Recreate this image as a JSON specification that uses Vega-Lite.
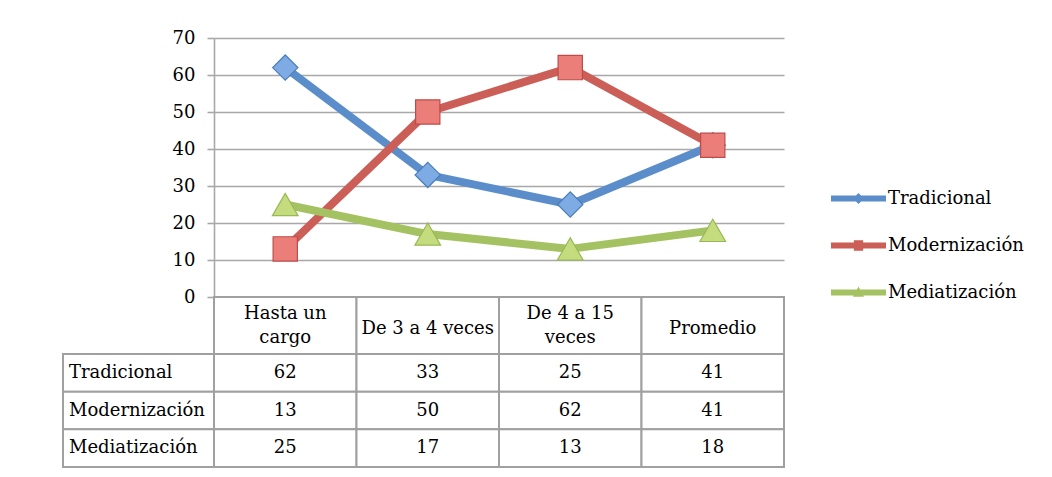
{
  "$schema": "https://vega.github.io/schema/vega-lite/v6.json",
  "autosize": {"type": "pad"},
  "padding": {"left": 62, "top": 29, "right": 0, "bottom": 0},
  "background": "white",
  "config": {
    "view": {"stroke": null},
    "font": "DejaVu Serif",
    "text": {"font": "DejaVu Serif", "fontSize": 18, "color": "#000000"},
    "axis": {"labelFont": "DejaVu Serif", "labelFontSize": 18, "labelColor": "#000000"}
  },
  "datasets": {
    "valores": [
      {"serie": "Tradicional", "categoria": "Hasta un cargo", "valor": 62},
      {"serie": "Tradicional", "categoria": "De 3 a 4 veces", "valor": 33},
      {"serie": "Tradicional", "categoria": "De 4 a 15 veces", "valor": 25},
      {"serie": "Tradicional", "categoria": "Promedio", "valor": 41},
      {"serie": "Modernización", "categoria": "Hasta un cargo", "valor": 13},
      {"serie": "Modernización", "categoria": "De 3 a 4 veces", "valor": 50},
      {"serie": "Modernización", "categoria": "De 4 a 15 veces", "valor": 62},
      {"serie": "Modernización", "categoria": "Promedio", "valor": 41},
      {"serie": "Mediatización", "categoria": "Hasta un cargo", "valor": 25},
      {"serie": "Mediatización", "categoria": "De 3 a 4 veces", "valor": 17},
      {"serie": "Mediatización", "categoria": "De 4 a 15 veces", "valor": 13},
      {"serie": "Mediatización", "categoria": "Promedio", "valor": 18}
    ],
    "categorias": [
      {"categoria": "Hasta un cargo", "etiqueta": "Hasta un\ncargo"},
      {"categoria": "De 3 a 4 veces", "etiqueta": "De 3 a 4 veces"},
      {"categoria": "De 4 a 15 veces", "etiqueta": "De 4 a 15\nveces"},
      {"categoria": "Promedio", "etiqueta": "Promedio"}
    ],
    "series": [
      {"serie": "Tradicional"},
      {"serie": "Modernización"},
      {"serie": "Mediatización"}
    ]
  },
  "columns": 2,
  "spacing": 0,
  "bounds": "flush",
  "concat": [
    {"width": 151, "height": 259, "data": {"values": []}, "mark": "point"},
    {
      "width": 570,
      "height": 259,
      "data": {"name": "valores"},
      "encoding": {
        "x": {
          "field": "categoria", "type": "nominal",
          "sort": ["Hasta un cargo", "De 3 a 4 veces", "De 4 a 15 veces", "Promedio"],
          "scale": {"type": "point", "padding": 0.5},
          "axis": null
        },
        "y": {
          "field": "valor", "type": "quantitative",
          "scale": {"domain": [0, 70], "nice": false},
          "axis": {
            "title": null, "values": [0, 10, 20, 30, 40, 50, 60, 70],
            "grid": true, "gridColor": "#A8A8A8", "gridWidth": 1.6,
            "domainColor": "#A8A8A8", "domainWidth": 1.6,
            "tickColor": "#A8A8A8", "tickWidth": 1.6, "tickSize": 7,
            "labelPadding": 12
          }
        }
      },
      "layer": [
        {
          "mark": {"type": "line", "strokeWidth": 8, "strokeJoin": "round", "strokeCap": "round"},
          "encoding": {
            "color": {
              "field": "serie", "type": "nominal",
              "sort": ["Tradicional", "Modernización", "Mediatización"],
              "scale": {"domain": ["Tradicional", "Modernización", "Mediatización"], "range": ["#5A8DC9", "#CC5E58", "#A5C263"]},
              "legend": {
                "title": null,
                "orient": "none",
                "legendX": 768,
                "legendY": 133,
                "symbolSize": 3025,
                "symbolType": "M-1,-0.11L1,-0.11L1,0.11L-1,0.11Z",
                "symbolStrokeWidth": 0,
                "labelFont": "DejaVu Serif",
                "labelFontSize": 18,
                "labelColor": "#000000",
                "labelOffset": 2,
                "rowPadding": 10,
                "encode": {
                  "symbols": {
                    "update": {
                      "shape": {"signal": "datum.value === 'Tradicional' ? 'M-1,-0.11L1,-0.11L1,0.11L-1,0.11Z M0,-0.2L0.2,0L0,0.2L-0.2,0Z' : datum.value === 'Modernización' ? 'M-1,-0.11L1,-0.11L1,0.11L-1,0.11Z M-0.17,-0.19L0.17,-0.19L0.17,0.19L-0.17,0.19Z' : 'M-1,-0.11L1,-0.11L1,0.11L-1,0.11Z M0,-0.22L0.2,0.15L-0.2,0.15Z'"},
                      "fill": {"signal": "scale('color', datum.value)"},
                      "stroke": {"value": "transparent"},
                      "opacity": {"value": 1}
                    }
                  }
                }
              }
            }
          }
        },
        {
          "transform": [{"filter": "datum.serie === 'Tradicional'"}],
          "mark": {"type": "point", "shape": "diamond", "filled": true, "size": 640, "fill": "#7EABE3", "stroke": "#4A7EBB", "strokeWidth": 1.2, "opacity": 1}
        },
        {
          "transform": [{"filter": "datum.serie === 'Modernización'"}],
          "mark": {"type": "point", "shape": "square", "filled": true, "size": 590, "fill": "#EC7E79", "stroke": "#BE4B48", "strokeWidth": 1.2, "opacity": 1}
        },
        {
          "transform": [{"filter": "datum.serie === 'Mediatización'"}],
          "mark": {"type": "point", "shape": "triangle-up", "filled": true, "size": 660, "fill": "#C4DC7E", "stroke": "#98B954", "strokeWidth": 1.2, "opacity": 1}
        }
      ]
    },
    {"width": 151, "height": 57, "data": {"values": []}, "mark": "point"},
    {
      "width": 570,
      "height": 57,
      "data": {"name": "categorias"},
      "encoding": {
        "x": {
          "field": "categoria", "type": "nominal",
          "sort": ["Hasta un cargo", "De 3 a 4 veces", "De 4 a 15 veces", "Promedio"],
          "scale": {"type": "band", "paddingInner": 0, "paddingOuter": 0},
          "axis": null
        }
      },
      "layer": [
        {"mark": {"type": "rect", "fill": "white", "stroke": "#A0A0A0", "strokeWidth": 2}},
        {
          "transform": [{"filter": "indexof(datum.etiqueta, '\\n') < 0"}],
          "mark": {"type": "text", "align": "center", "baseline": "middle", "dy": 3},
          "encoding": {"text": {"field": "etiqueta", "type": "nominal"}}
        },
        {
          "transform": [{"filter": "indexof(datum.etiqueta, '\\n') >= 0"}],
          "mark": {"type": "text", "lineBreak": "\n", "lineHeight": 24, "align": "center", "baseline": "middle", "dy": -12},
          "encoding": {"text": {"field": "etiqueta", "type": "nominal"}}
        }
      ]
    },
    {
      "width": 151,
      "height": 113,
      "data": {"name": "series"},
      "encoding": {
        "y": {
          "field": "serie", "type": "nominal",
          "sort": ["Tradicional", "Modernización", "Mediatización"],
          "scale": {"type": "band", "paddingInner": 0, "paddingOuter": 0},
          "axis": null
        }
      },
      "layer": [
        {"mark": {"type": "rect", "fill": "white", "stroke": "#A0A0A0", "strokeWidth": 2}},
        {
          "mark": {"type": "text", "align": "left", "baseline": "middle", "x": 6},
          "encoding": {"text": {"field": "serie", "type": "nominal"}}
        }
      ]
    },
    {
      "width": 570,
      "height": 113,
      "data": {"name": "valores"},
      "encoding": {
        "x": {
          "field": "categoria", "type": "nominal",
          "sort": ["Hasta un cargo", "De 3 a 4 veces", "De 4 a 15 veces", "Promedio"],
          "scale": {"type": "band", "paddingInner": 0, "paddingOuter": 0},
          "axis": null
        },
        "y": {
          "field": "serie", "type": "nominal",
          "sort": ["Tradicional", "Modernización", "Mediatización"],
          "scale": {"type": "band", "paddingInner": 0, "paddingOuter": 0},
          "axis": null
        }
      },
      "layer": [
        {"mark": {"type": "rect", "fill": "white", "stroke": "#A0A0A0", "strokeWidth": 2}},
        {
          "mark": {"type": "text", "align": "center", "baseline": "middle"},
          "encoding": {"text": {"field": "valor", "type": "quantitative"}}
        }
      ]
    }
  ]
}
